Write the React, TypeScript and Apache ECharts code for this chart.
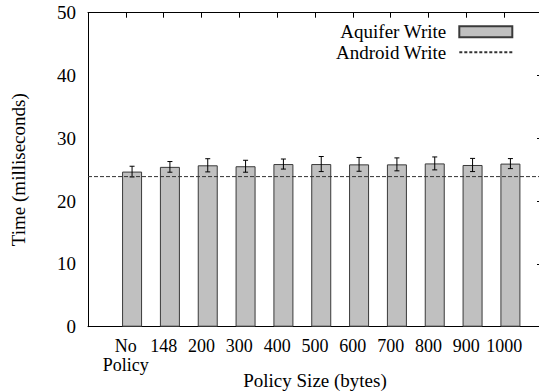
import React, { useEffect, useRef } from "react";
import * as echarts from "echarts";

const categories = ["No\nPolicy", "148", "200", "300", "400", "500", "600", "700", "800", "900", "1000"];
const aquiferWrite = [24.7, 25.45, 25.7, 25.55, 25.9, 25.9, 25.85, 25.85, 26.0, 25.75, 25.97];
const aquiferErr = [0.85, 0.85, 1.05, 0.95, 0.8, 1.2, 1.1, 1.03, 1.03, 1.05, 0.8];
const androidWrite = 23.9;
const yTicks = [0, 10, 20, 30, 40, 50];

const FONT = "Liberation Serif, Times New Roman, serif";
const FS = 19;
const BAR_OFFSET = 0.165;

export default function App() {
  const ref = useRef<HTMLDivElement>(null);
  useEffect(() => {
    document.body.style.margin = "0";
    const chart = echarts.init(ref.current!, null, { renderer: "svg" });
    const idx = categories.map((_, i) => i);
    const barData = aquiferWrite.map((v, i) => [i + BAR_OFFSET, v]);
    const errData = aquiferWrite.map((v, i) => [i + BAR_OFFSET, v - aquiferErr[i], v + aquiferErr[i]]);
    const option: any = {
      animation: false,
      backgroundColor: "#ffffff",
      textStyle: { fontFamily: FONT },
      grid: { left: 88, right: -3, top: 12.7, bottom: 64.3, containLabel: false, outerBoundsMode: "none" },
      legend: {
        orient: "vertical",
        right: 20.7,
        top: 16.5,
        align: "right",
        itemWidth: 53,
        itemHeight: 11,
        itemGap: 0,
        selectedMode: false,
        textStyle: { fontFamily: FONT, fontSize: FS, color: "#000", lineHeight: 20.5, padding: [0, 8, 0, 0] },
        data: [
          { name: "Aquifer Write", icon: "rect" },
          { name: "Android Write", lineStyle: { type: [3, 2] } },
        ],
      },
      xAxis: [
        {
          type: "value",
          position: "bottom",
          min: -1,
          max: 11,
          name: "Policy Size (bytes)",
          nameLocation: "middle",
          nameGap: 44,
          nameMoveOverlap: false,
          nameTextStyle: { fontFamily: FONT, fontSize: FS, color: "#000" },
          axisLine: { show: true, onZero: false, lineStyle: { color: "#000", width: 1 } },
          axisTick: { show: false },
          splitLine: { show: false },
          axisLabel: {
            customValues: idx,
            formatter: (v: number) => categories[Math.round(v)] ?? "",
            fontFamily: FONT,
            fontSize: 18,
            lineHeight: 19,
            color: "#000",
            margin: 10,
            hideOverlap: false,
          },
        },
        {
          type: "value",
          position: "top",
          min: -1,
          max: 11,
          axisLine: { show: true, onZero: false, lineStyle: { color: "#000", width: 1 } },
          axisTick: { show: true, inside: true, length: 5, customValues: idx, lineStyle: { color: "#000" } },
          axisLabel: { show: false },
          splitLine: { show: false },
        },
      ],
      yAxis: [
        {
          type: "value",
          position: "left",
          min: 0,
          max: 50,
          interval: 10,
          name: "Time (milliseconds)",
          nameLocation: "middle",
          nameGap: 60,
          nameTextStyle: { fontFamily: FONT, fontSize: FS, color: "#000" },
          axisLine: { show: true, onZero: false, lineStyle: { color: "#000", width: 1 } },
          axisTick: { show: false },
          splitLine: { show: false },
          axisLabel: {
            fontFamily: FONT,
            fontSize: FS,
            color: "#000",
            margin: 12,
            customValues: yTicks,
          },
        },
        {
          type: "value",
          position: "right",
          min: 0,
          max: 50,
          interval: 10,
          axisLine: { show: true, onZero: false, lineStyle: { color: "#000", width: 1 } },
          axisTick: { show: true, inside: true, length: 5, lineStyle: { color: "#000" } },
          axisLabel: { show: false },
          splitLine: { show: false },
        },
      ],
      series: [
        {
          name: "Aquifer Write",
          type: "bar",
          xAxisIndex: 0,
          yAxisIndex: 0,
          barWidth: 20,
          data: barData,
          itemStyle: { color: "#c0c0c0", borderColor: "#3a3a3a", borderWidth: 1 },
          z: 2,
        },
        {
          name: "Aquifer Error",
          type: "custom",
          xAxisIndex: 0,
          yAxisIndex: 0,
          data: errData,
          encode: { x: 0, y: [1, 2] },
          z: 3,
          renderItem: (params: any, api: any) => {
            const x = api.value(0);
            const lo = api.coord([x, api.value(1)]);
            const hi = api.coord([x, api.value(2)]);
            const hw = 2.5;
            const style = { stroke: "#000", lineWidth: 1 };
            return {
              type: "group",
              children: [
                { type: "line", shape: { x1: lo[0], y1: lo[1], x2: hi[0], y2: hi[1] }, style },
                { type: "line", shape: { x1: lo[0] - hw, y1: lo[1], x2: lo[0] + hw, y2: lo[1] }, style },
                { type: "line", shape: { x1: hi[0] - hw, y1: hi[1], x2: hi[0] + hw, y2: hi[1] }, style },
              ],
            };
          },
        },
        {
          name: "Android Write",
          type: "line",
          xAxisIndex: 0,
          yAxisIndex: 0,
          symbol: "none",
          data: [
            [-1, androidWrite],
            [11, androidWrite],
          ],
          lineStyle: { color: "#333", width: 1, type: [4, 2] },
          itemStyle: { color: "rgba(0,0,0,0)", borderColor: "rgba(0,0,0,0)", borderWidth: 0 },
          z: 4,
        },
      ],
    };
    chart.setOption(option);
    return () => chart.dispose();
  }, []);
  return <div ref={ref} style={{ width: 539, height: 391 }} />;
}
